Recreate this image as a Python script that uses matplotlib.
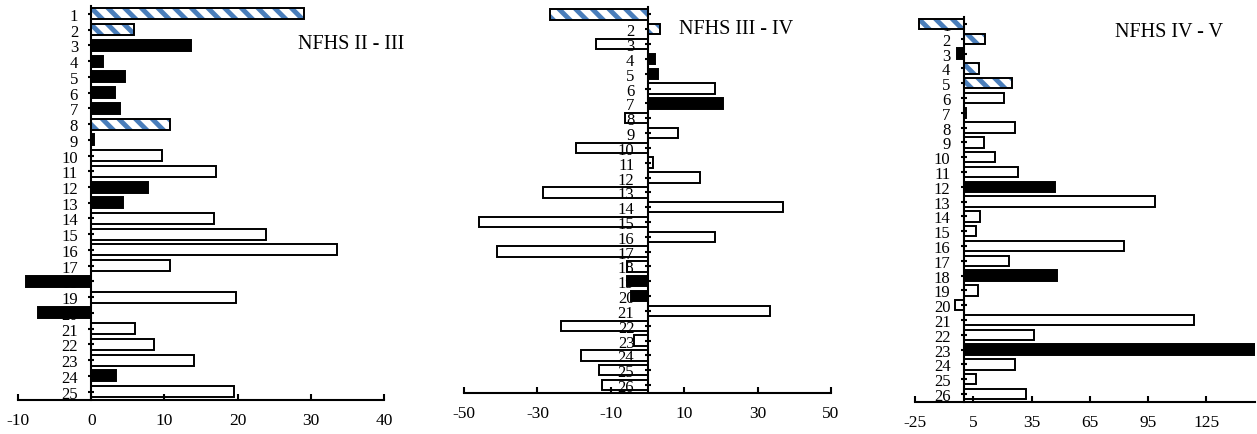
import matplotlib
matplotlib.use("Agg")
import matplotlib.pyplot as plt
import numpy as np

plt.rcParams['font.family'] = ['Liberation Serif', 'DejaVu Serif']
plt.rcParams['axes.unicode_minus'] = False
plt.rcParams['hatch.linewidth'] = 3.5

# panel data: value per category and bar style (h = blue hatched, b = black, w = white)
vals1 = [29.1, 5.8, 13.7, 1.6, 4.6, 3.3, 3.9, 10.8, 0.4, 9.7, 17.0, 7.8, 4.3,
         16.8, 23.9, 33.6, 10.8, -8.9, 19.8, -7.2, 6.0, 8.6, 14.0, 3.4, 19.5]
kind1 = "hhbbbbbhbwwbbwwwwbwbwwwbw"

vals2 = [-26.6, 3.5, -14.1, 2.0, 2.9, 18.5, 20.7, -6.1, 8.2, -19.5, 1.6, 14.2, -28.5,
         36.9, -46.0, 18.4, -40.9, -5.5, -5.7, -4.6, 33.5, -23.7, -3.6, -18.0, -13.2, -12.3]
kind2 = "hhwbbwbwwwwwwwwwwwbbwwwwww"

vals3 = [-22.8, 11.0, -3.6, 7.7, 24.9, 20.6, 1.0, 26.7, 10.5, 16.1, 28.1, 47.1, 98.7,
         8.7, 6.3, 82.8, 23.5, 48.3, 7.5, -4.6, 118.6, 36.5, 152.0, 26.6, 6.5, 31.9]
kind3 = "hhbhhwwwwwwbwwwwwbwwwwbwww"

titles = ["NFHS II - III", "NFHS III - IV", "NFHS IV - V"]
xlims = [(-10, 40), (-50, 50), (-25, 150)]
xticks = [[-10, 0, 10, 20, 30, 40], [-50, -30, -10, 10, 30, 50], [-25, 5, 35, 65, 95, 125]]
title_pos = [(28.2, 2.9), (8.6, 1.96), (77.7, 1.54)]

W, H = 1257, 435
fig = plt.figure(figsize=(W / 100, H / 100), dpi=100)
boxes = [(18, 7, 384, 400.5), (464, 8, 831, 393.5), (915, 17.5, 1255, 402.5)]

blue = '#4A7EBB'

for k, (vals, kind) in enumerate([(vals1, kind1), (vals2, kind2), (vals3, kind3)]):
    x0, y0, x1, y1 = boxes[k]
    ax = fig.add_axes([x0 / W, 1 - y1 / H, (x1 - x0) / W, (y1 - y0) / H])
    n = len(vals)
    cats = np.arange(1, n + 1)
    ax.set_axisbelow(True)
    for c, v, t in zip(cats, vals, kind):
        if t == 'h':
            ax.barh(c, v, height=0.7, color='white', edgecolor=blue, hatch='\\\\', linewidth=0)
            ax.barh(c, v, height=0.7, color='none', edgecolor='black', linewidth=1.4)
        elif t == 'b':
            ax.barh(c, v, height=0.7, color='black', edgecolor='black', linewidth=1.4)
        else:
            ax.barh(c, v, height=0.7, color='none', edgecolor='black', linewidth=1.4)
    ax.set_ylim(n + 0.5, 0.5)
    ax.set_xlim(*xlims[k])
    ax.set_yticks(cats)
    ax.set_yticklabels([str(c) for c in cats])
    ax.set_xticks(xticks[k])
    ax.spines['top'].set_visible(False)
    ax.spines['right'].set_visible(False)
    ax.spines['left'].set_position(('data', 0))
    ax.spines['left'].set_linewidth(1.5)
    ax.spines['bottom'].set_linewidth(1.5)
    ax.tick_params(axis='y', direction='inout', length=5, width=1.5, pad=7, labelsize=12)
    ax.tick_params(axis='x', direction='in', length=4, width=1.5, pad=9, labelsize=12.5)
    ax.text(title_pos[k][0], title_pos[k][1], titles[k], fontsize=14.5, ha='left', va='center')

fig.savefig("out.png", dpi=100, facecolor='white')
